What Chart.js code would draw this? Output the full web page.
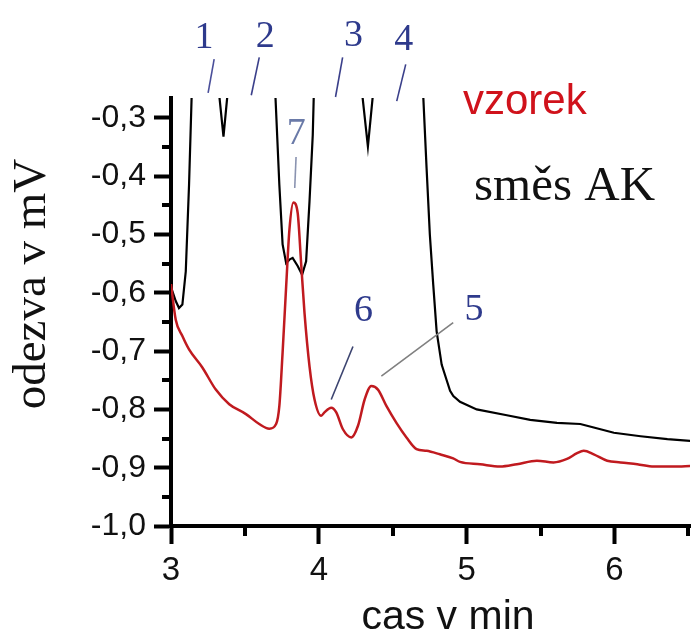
<!DOCTYPE html>
<html>
<head>
<meta charset="utf-8">
<script src="https://cdn.jsdelivr.net/npm/chart.js@4"></script>
<style>
  html, body { margin: 0; padding: 0; background: #fff; }
  #wrap { width: 691px; height: 639px; }
</style>
</head>
<body>
<div id="wrap"><canvas id="chart" width="691" height="639"></canvas></div>
<script>
// Chromatogram — sample (vzorek) vs. amino acid mixture (směs AK)

// red trace: sample
const sampleTime = [3.0, 3.032, 3.077, 3.122, 3.212, 3.303, 3.394, 3.507, 3.597, 3.665,
  3.711, 3.733, 3.755, 3.779, 3.801, 3.828, 3.857, 3.880, 3.903, 3.937,
  3.971, 4.016, 4.038, 4.084, 4.118, 4.163, 4.220, 4.265, 4.310, 4.355,
  4.400, 4.457, 4.525, 4.593, 4.661, 4.729, 4.819, 4.909, 4.955, 5.091,
  5.226, 5.340, 5.475, 5.588, 5.679, 5.747, 5.792, 5.860, 5.951, 6.041,
  6.154, 6.267, 6.403, 6.516];
const sampleSignal = [-0.585, -0.646, -0.674, -0.697, -0.728, -0.766, -0.791, -0.808, -0.825, -0.833,
  -0.825, -0.794, -0.702, -0.589, -0.492, -0.445, -0.463, -0.548, -0.634, -0.726,
  -0.783, -0.811, -0.805, -0.797, -0.805, -0.834, -0.848, -0.828, -0.783, -0.760,
  -0.766, -0.794, -0.823, -0.848, -0.868, -0.871, -0.877, -0.884, -0.890, -0.894,
  -0.898, -0.894, -0.888, -0.891, -0.885, -0.875, -0.871, -0.877, -0.888, -0.891,
  -0.894, -0.898, -0.898, -0.897];

// black trace: amino acid standard mixture (big peaks run off the top)
const mixTime = [3.0, 3.032, 3.054, 3.077, 3.100, 3.122, 3.140, 3.23, 3.326, 3.355,
  3.382, 3.55, 3.706, 3.733, 3.755, 3.779, 3.801, 3.823, 3.857, 3.887,
  3.914, 3.937, 3.959, 3.966, 4.13, 4.294, 4.332, 4.366, 4.53, 4.706,
  4.729, 4.751, 4.774, 4.797, 4.831, 4.865, 4.888, 4.910, 4.955, 5.068,
  5.272, 5.430, 5.611, 5.769, 5.860, 5.996, 6.177, 6.358, 6.516];
const mixSignal = [-0.59, -0.614, -0.626, -0.620, -0.563, -0.415, -0.26, -0.1, -0.26, -0.332,
  -0.26, -0.1, -0.26, -0.415, -0.517, -0.549, -0.543, -0.540, -0.554, -0.569,
  -0.546, -0.443, -0.329, -0.26, -0.1, -0.26, -0.349, -0.26, -0.1, -0.26,
  -0.386, -0.500, -0.586, -0.666, -0.723, -0.750, -0.768, -0.777, -0.787, -0.800,
  -0.810, -0.818, -0.823, -0.825, -0.831, -0.840, -0.846, -0.851, -0.854];

const xMajorTicks = [3, 4, 5, 6];
const xMinorTicks = [3.5, 4.5, 5.5, 6.5];
const yMajorTicks = [-1.0, -0.9, -0.8, -0.7, -0.6, -0.5, -0.4, -0.3];
const yMinorTicks = [-0.95, -0.85, -0.75, -0.65, -0.55, -0.45, -0.35];

// peak numbers with leader lines (data units)
const peakNames = ['1', '2', '3', '4', '5', '6', '7'];
const peakLabelAt = [[3.224, -0.163], [3.638, -0.161], [4.235, -0.160], [4.575, -0.167], [5.050, -0.630], [4.303, -0.632], [3.848, -0.327]];
const leaderFrom = [[3.292, -0.199], [3.597, -0.196], [4.161, -0.196], [4.588, -0.208], [4.909, -0.651], [4.231, -0.692], [3.846, -0.367]];
const leaderTo = [[3.251, -0.257], [3.543, -0.261], [4.113, -0.264], [4.527, -0.271], [4.423, -0.743], [4.084, -0.783], [3.837, -0.420]];

const SANS = "'Liberation Sans', Arial, sans-serif";
const SERIF = "'Liberation Serif', 'Times New Roman', serif";

const toPoints = (xs, ys) => xs.map((x, i) => ({ x, y: ys[i] }));

const overlay = {
  id: 'overlay',
  afterDraw(chart) {
    const { ctx, scales: { x, y }, chartArea } = chart;
    ctx.save();

    // minor ticks
    ctx.strokeStyle = '#000';
    ctx.lineWidth = 4;
    xMinorTicks.forEach(v => {
      const px = Math.round(x.getPixelForValue(v));
      ctx.beginPath();
      ctx.moveTo(px, chartArea.bottom);
      ctx.lineTo(px, chartArea.bottom + 10);
      ctx.stroke();
    });
    yMinorTicks.forEach(v => {
      const py = Math.round(y.getPixelForValue(v));
      ctx.beginPath();
      ctx.moveTo(chartArea.left, py);
      ctx.lineTo(chartArea.left - 9, py);
      ctx.stroke();
    });

    // leader lines
    const leaderColors = ['#4a4f9a', '#3a3f8a', '#3a3f8a', '#3a3f8a', '#808080', '#3c4470', '#8a93b0'];
    ctx.lineWidth = 1.6;
    peakNames.forEach((_, i) => {
      ctx.strokeStyle = leaderColors[i];
      ctx.beginPath();
      ctx.moveTo(x.getPixelForValue(leaderFrom[i][0]), y.getPixelForValue(leaderFrom[i][1]));
      ctx.lineTo(x.getPixelForValue(leaderTo[i][0]), y.getPixelForValue(leaderTo[i][1]));
      ctx.stroke();
    });

    // peak numbers
    ctx.textAlign = 'center';
    ctx.textBaseline = 'middle';
    ctx.font = `38px ${SERIF}`;
    peakNames.forEach((name, i) => {
      ctx.fillStyle = name === '7' ? '#6a7aa8' : '#2e3a8c';
      ctx.fillText(name, x.getPixelForValue(peakLabelAt[i][0]), y.getPixelForValue(peakLabelAt[i][1]));
    });

    // trace names
    ctx.textAlign = 'left';
    ctx.textBaseline = 'alphabetic';
    ctx.fillStyle = '#d0121b';
    ctx.font = `42px ${SANS}`;
    ctx.fillText('vzorek', x.getPixelForValue(4.975), y.getPixelForValue(-0.293));
    ctx.fillStyle = '#111';
    ctx.font = `49px ${SERIF}`;
    ctx.fillText('směs AK', x.getPixelForValue(5.050), y.getPixelForValue(-0.440));

    // axis titles
    ctx.fillStyle = '#111';
    ctx.textAlign = 'center';
    ctx.textBaseline = 'middle';
    ctx.font = `41px ${SANS}`;
    ctx.fillText('cas v min', 448, 618);
    ctx.translate(33, 284);
    ctx.rotate(-Math.PI / 2);
    ctx.font = `47px ${SERIF}`;
    ctx.fillText('odezva v mV', 0, 0);

    ctx.restore();
  }
};

new Chart(document.getElementById('chart'), {
  type: 'line',
  data: {
    datasets: [
      {
        label: 'vzorek',
        data: toPoints(sampleTime, sampleSignal),
        borderColor: '#c01a1f',
        borderWidth: 2.5,
        pointRadius: 0,
        cubicInterpolationMode: 'monotone',
        clip: 0,
      },
      {
        label: 'směs AK',
        data: toPoints(mixTime, mixSignal),
        borderColor: '#000',
        borderWidth: 2.2,
        pointRadius: 0,
        tension: 0,
        clip: 0,
      },
    ],
  },
  options: {
    responsive: false,
    animation: false,
    events: [],
    layout: { padding: { top: 98, right: 1, left: 0, bottom: 0 } },
    plugins: { legend: { display: false }, tooltip: { enabled: false } },
    scales: {
      x: {
        type: 'linear',
        min: 3,
        max: 6.511,
        afterBuildTicks: s => { s.ticks = xMajorTicks.map(v => ({ value: v })); },
        afterFit: s => { s.height = 113; },
        ticks: {
          color: '#111',
          font: { family: SANS, size: 33 },
          padding: 7,
          maxRotation: 0,
          callback: v => String(v),
        },
        grid: { drawOnChartArea: false, tickLength: 18, tickWidth: 4, tickColor: '#000' },
        border: { display: true, color: '#000', width: 4 },
      },
      y: {
        type: 'linear',
        min: -1.0,
        max: -0.2657,
        afterBuildTicks: s => { s.ticks = yMajorTicks.map(v => ({ value: v })); },
        afterFit: s => { s.width = 171; },
        ticks: {
          color: '#111',
          font: { family: SANS, size: 32 },
          padding: 8,
          callback: v => v.toFixed(1).replace('.', ','),
        },
        grid: { drawOnChartArea: false, tickLength: 17, tickWidth: 4, tickColor: '#000' },
        border: { display: true, color: '#000', width: 4 },
      },
    },
  },
  plugins: [overlay],
});
</script>
</body>
</html>
